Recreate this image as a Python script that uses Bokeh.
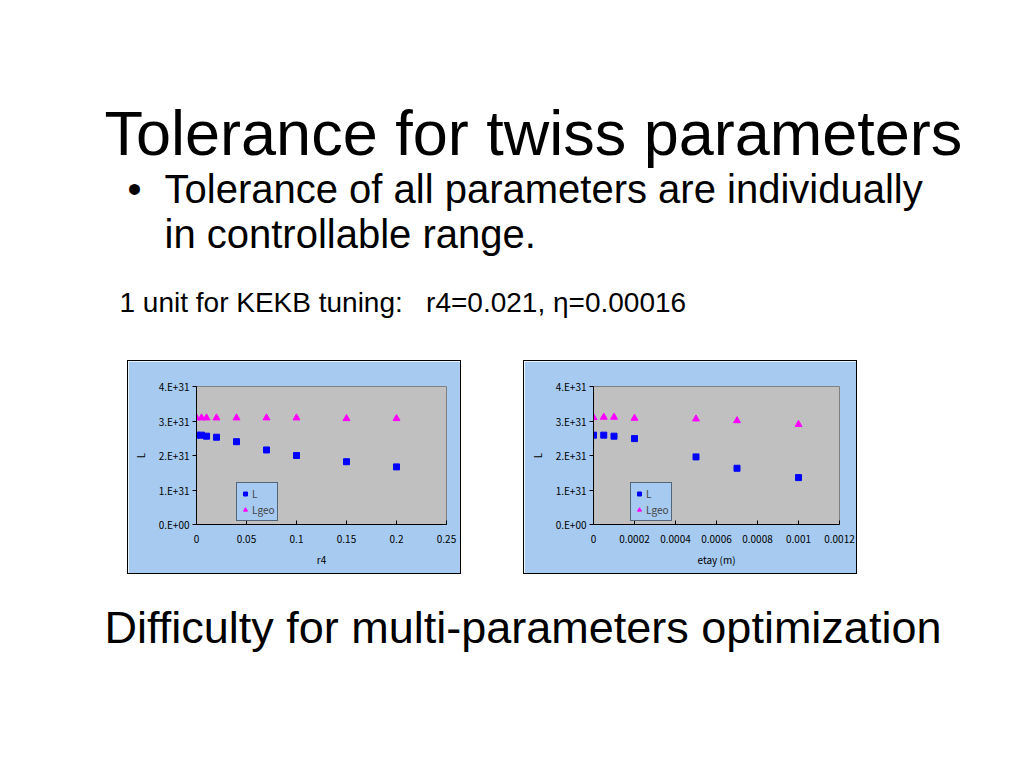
from bokeh.plotting import figure
from bokeh.layouts import column, row
from bokeh.models import (Range1d, Label, Spacer, FixedTicker, CustomJSTickFormatter)
from bokeh.embed import file_html
from bokeh.resources import INLINE

# ---------------- data ----------------
title_text = "Tolerance for twiss parameters"
bullet_lines = ["Tolerance of all parameters are individually", "in controllable range."]
unit_text = "1 unit for KEKB tuning:\u00a0\u00a0\u00a0r4=0.021, \u03b7=0.00016"
bottom_text = "Difficulty for multi-parameters optimization"

r4 = [0, 0.005, 0.01, 0.02, 0.04, 0.07, 0.1, 0.15, 0.2]
r4_L = [2.59e31, 2.59e31, 2.56e31, 2.53e31, 2.40e31, 2.16e31, 2.00e31, 1.82e31, 1.67e31]
r4_Lgeo = [3.09e31, 3.09e31, 3.09e31, 3.09e31, 3.09e31, 3.09e31, 3.09e31, 3.07e31, 3.07e31]
r4_ticks = [0, 0.05, 0.1, 0.15, 0.2, 0.25]

etay = [0, 0.00005, 0.0001, 0.0002, 0.0005, 0.0007, 0.001]
etay_L = [2.59e31, 2.59e31, 2.56e31, 2.49e31, 1.96e31, 1.63e31, 1.36e31]
etay_Lgeo = [3.10e31, 3.11e31, 3.11e31, 3.08e31, 3.06e31, 3.01e31, 2.90e31]
etay_ticks = [0, 0.0002, 0.0004, 0.0006, 0.0008, 0.001, 0.0012]

y_ticks = [0, 1e31, 2e31, 3e31, 4e31]
series_names = ["L", "Lgeo"]

FONT = "Liberation Sans"
CFONT = "Noto Sans CJK JP"
OUTER = "#A6CAF0"


def text_fig(height):
    f = figure(width=1008, height=height, x_range=Range1d(0, 1008), y_range=Range1d(height, 0),
               output_backend="svg", toolbar_location=None, min_border=0)
    f.axis.visible = False
    f.grid.visible = False
    f.outline_line_color = None
    f.background_fill_color = "white"
    f.border_fill_color = "white"
    return f


def add_text(f, x, y, txt, size):
    f.add_layout(Label(x=x, y=y, text=txt, text_font=FONT, text_font_size=size,
                       text_baseline="middle", text_color="black"))


top = text_fig(360)
add_text(top, 104, 132, title_text, "63px")
add_text(top, 127, 188, "\u2022", "40px")
add_text(top, 164, 188, bullet_lines[0], "40px")
add_text(top, 164, 233, bullet_lines[1], "40px")
add_text(top, 119, 302, unit_text, "28px")

bottom = text_fig(176)
add_text(bottom, 104, 53, bottom_text, "45px")


def make_chart(x, L, Lgeo, xmax, xticks, xlabel, left, right, legend_left):
    p = figure(width=332, height=212, x_range=Range1d(0, xmax), y_range=Range1d(0, 4e31),
               output_backend="svg", toolbar_location=None,
               min_border_left=left, min_border_right=right, min_border_top=25, min_border_bottom=49)
    p.background_fill_color = "#C0C0C0"
    p.border_fill_color = OUTER
    p.outline_line_color = "#808080"
    p.grid.visible = False
    p.scatter(x, L, marker="square", size=6, color="#0000FF", legend_label=series_names[0])
    p.scatter(x, Lgeo, marker="triangle", size=7, color="#FF00FF", legend_label=series_names[1])

    p.xaxis.ticker = FixedTicker(ticks=xticks)
    p.xaxis.formatter = CustomJSTickFormatter(code="return String(Number(tick.toPrecision(6)));")
    p.yaxis.ticker = FixedTicker(ticks=y_ticks)
    p.yaxis.formatter = CustomJSTickFormatter(
        code="return tick == 0 ? '0.E+00' : Math.round(tick/1e31) + '.E+31';")
    for ax in (p.xaxis, p.yaxis):
        ax.axis_line_color = "black"
        ax.major_tick_line_color = "black"
        ax.minor_tick_line_color = None
        ax.major_label_text_font = CFONT
        ax.major_label_text_font_size = "10px"
        ax.major_label_text_color = "black"
        ax.axis_label_text_font = CFONT
        ax.axis_label_text_font_size = "10px"
        ax.axis_label_text_font_style = "normal"
        ax.axis_label_text_color = "black"
    p.yaxis.major_tick_out = 4
    p.yaxis.major_tick_in = 0
    p.xaxis.major_tick_out = 0
    p.xaxis.major_tick_in = 4
    p.xaxis.axis_label = xlabel
    p.xaxis.major_label_standoff = 10
    p.xaxis.axis_label_standoff = 6
    p.yaxis.axis_label = "L"
    p.yaxis.major_label_standoff = 3
    p.yaxis.axis_label_standoff = 8

    lg = p.legend[0]
    lg.location = (legend_left, 3)
    lg.background_fill_color = OUTER
    lg.background_fill_alpha = 1
    lg.border_line_color = "black"
    lg.label_text_font = CFONT
    lg.label_text_font_size = "10px"
    lg.glyph_width = 10
    lg.glyph_height = 11
    lg.label_height = 11
    lg.label_standoff = 2
    lg.padding = 3
    lg.spacing = 1
    lg.margin = 0
    return column(p, styles={"border": "1px solid black"})


c1 = make_chart(r4, r4_L, r4_Lgeo, 0.25, r4_ticks, "r4", 68, 14, 40)
c2 = make_chart(etay, etay_L, etay_Lgeo, 0.0012, etay_ticks, "etay (m)", 69, 17, 37)

mid = row(Spacer(width=127, height=214), c1, Spacer(width=62, height=214), c2)
page = column(top, mid, bottom)

open("out.html", "w").write(file_html(page, INLINE))
